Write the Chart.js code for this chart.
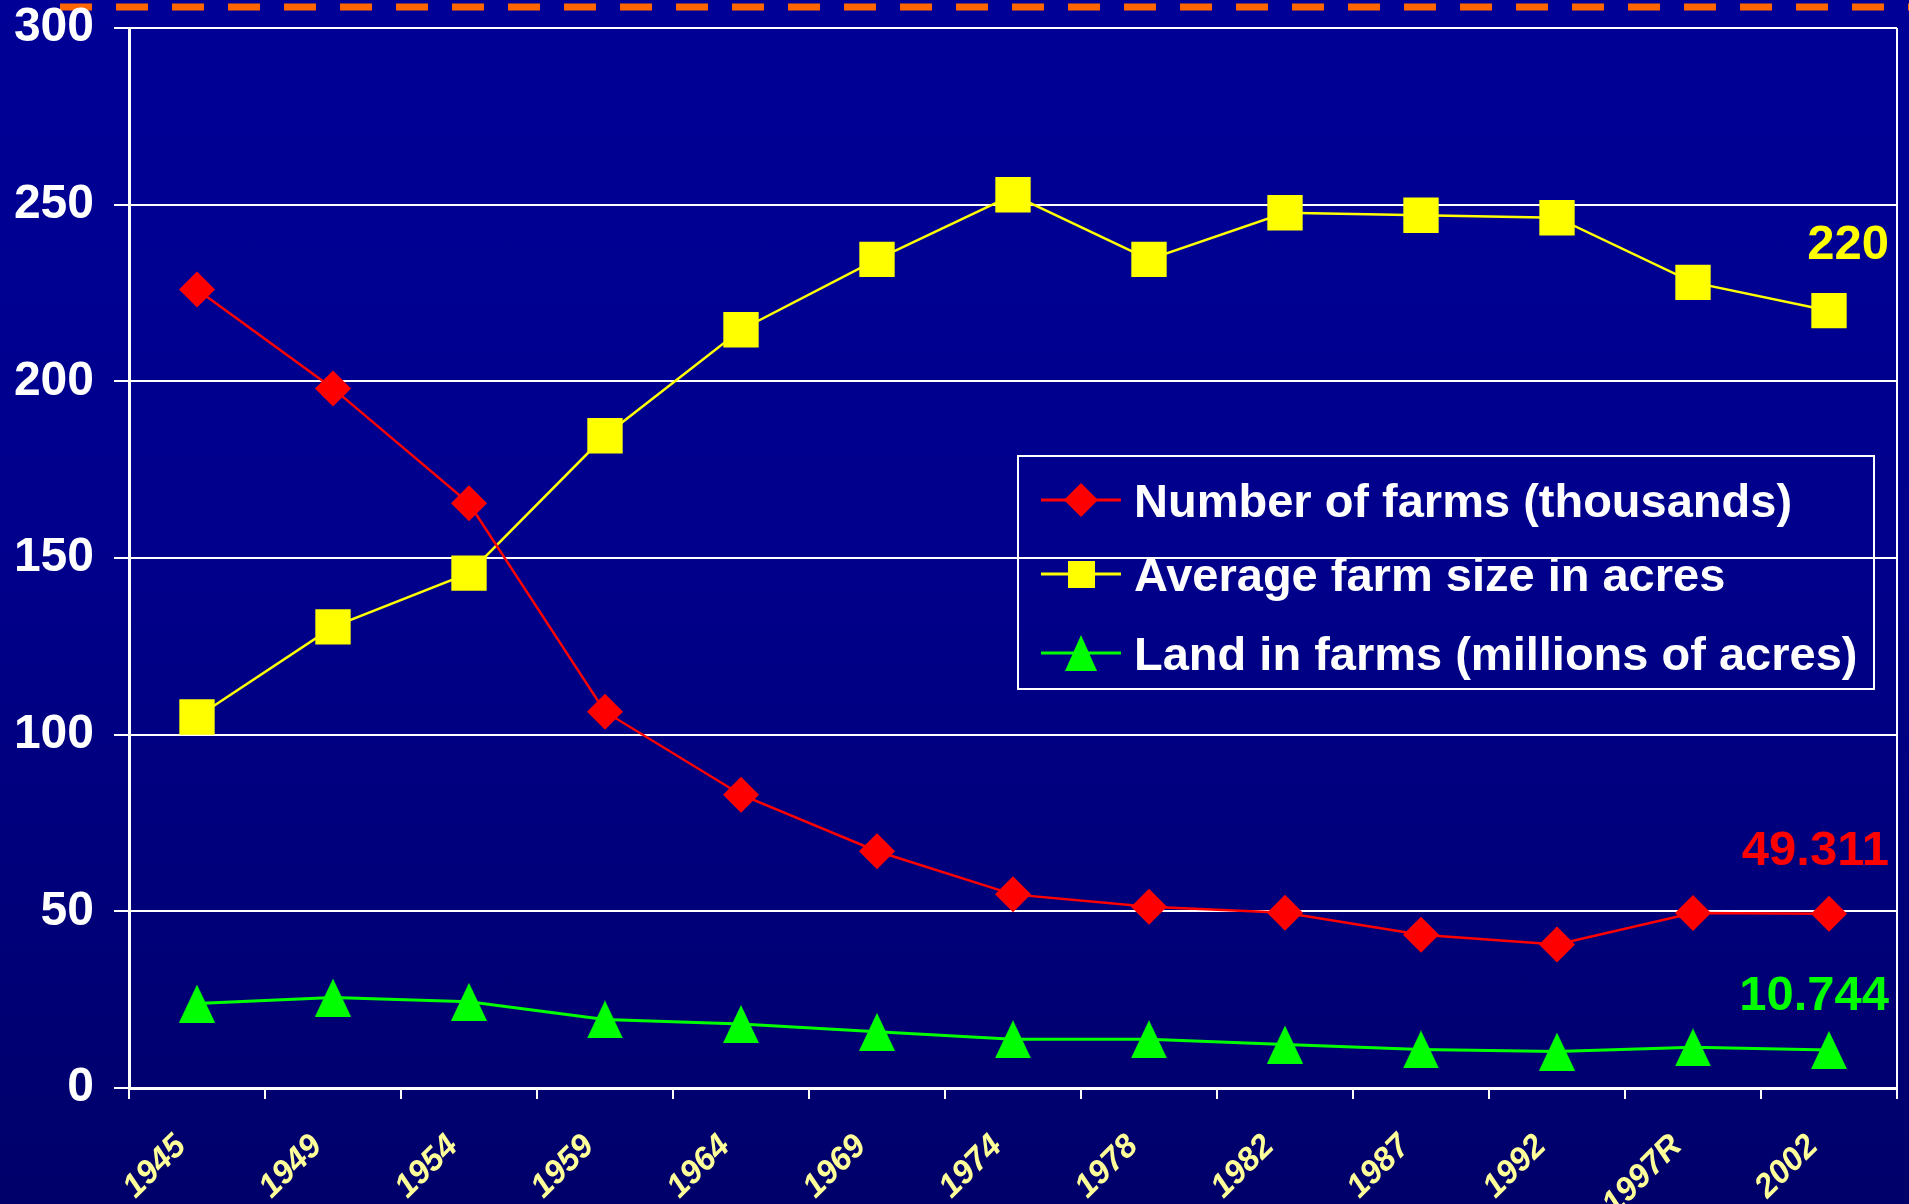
<!DOCTYPE html>
<html>
<head>
<meta charset="utf-8">
<script src="https://cdn.jsdelivr.net/npm/chart.js@4.4.1/dist/chart.umd.min.js"></script>
<style>
  html, body { margin: 0; padding: 0; }
  body {
    width: 1909px; height: 1204px; overflow: hidden; position: relative;
    background: linear-gradient(to bottom, #000096 0%, #00008c 45%, #00006a 100%);
    font-family: "Liberation Sans", Arial, sans-serif;
  }
  #wrap { position: absolute; left: 0; top: 0; width: 1909px; height: 1204px; }
  .legend {
    position: absolute; left: 1017px; top: 455px; width: 854px; height: 231px;
    border: 2px solid #fff;
  }
  .legend .row {
    position: absolute; left: 0; height: 60px; display: flex; align-items: center;
    color: #fff; font-weight: bold; font-size: 47px; white-space: nowrap;
  }
  .legend svg { margin-left: 22px; margin-right: 13px; }
</style>
</head>
<body>
<div id="wrap"><canvas id="farm-chart" width="1909" height="1204"></canvas></div>
<div class="legend" id="legend"></div>

<script>
const years = ['1945', '1949', '1954', '1959', '1964', '1969', '1974', '1978', '1982', '1987', '1992', '1997R', '2002'];
const farmCount = [226, 198, 165.5, 106.5, 83, 67, 54.8, 51.3, 49.6, 43.4, 40.6, 49.5, 49.311];
const farmSize = [105, 130.5, 145.7, 184.6, 214.6, 234.5, 252.8, 234.5, 247.7, 247, 246.3, 228, 220];
const landInFarms = [23.9, 25.6, 24.4, 19.4, 18.1, 15.9, 13.8, 13.8, 12.3, 10.9, 10.3, 11.5, 10.744];
const seriesNames = ['Number of farms (thousands)', 'Average farm size in acres', 'Land in farms (millions of acres)'];

// tall triangle marker, like the Excel one
function triangleMarker(w, h, color) {
    const c = document.createElement('canvas');
    c.width = w; c.height = h;
    const ctx = c.getContext('2d');
    ctx.fillStyle = color;
    ctx.beginPath();
    ctx.moveTo(w / 2, 0);
    ctx.lineTo(w, h);
    ctx.lineTo(0, h);
    ctx.closePath();
    ctx.fill();
    return c;
}

// orange dashed rule at the top of the slide + right border of the plot
const slideDecor = {
    id: 'slideDecor',
    beforeDraw(chart) {
        const ctx = chart.ctx;
        ctx.save();
        ctx.strokeStyle = '#ff6600';
        ctx.lineWidth = 7;
        ctx.setLineDash([32, 24]);
        ctx.beginPath();
        ctx.moveTo(60, 7);
        ctx.lineTo(chart.width, 7);
        ctx.stroke();
        ctx.restore();
    },
    afterDraw(chart) {
        const { ctx, chartArea } = chart;
        ctx.save();
        ctx.strokeStyle = '#ffffff';
        ctx.lineWidth = 2;
        ctx.beginPath();
        ctx.moveTo(chartArea.right, chartArea.top);
        ctx.lineTo(chartArea.right, chartArea.bottom);
        ctx.stroke();
        ctx.restore();
    }
};

// value of the last point, written above it at the right edge
const endLabels = {
    id: 'endLabels',
    afterDatasetsDraw(chart) {
        const { ctx, chartArea } = chart;
        const lifts = [62, 65, 54];
        ctx.save();
        ctx.font = 'bold 49px "Liberation Sans", Arial, sans-serif';
        ctx.textAlign = 'right';
        ctx.textBaseline = 'middle';
        chart.data.datasets.forEach((ds, i) => {
            const meta = chart.getDatasetMeta(i);
            const last = meta.data[meta.data.length - 1];
            ctx.fillStyle = ds.borderColor;
            ctx.fillText(String(ds.data[ds.data.length - 1]), chartArea.right - 8, last.y - lifts[i]);
        });
        ctx.restore();
    }
};

const greenTri = triangleMarker(36, 38, '#00ff00');

new Chart(document.getElementById('farm-chart'), {
    type: 'line',
    data: {
        labels: years,
        datasets: [
            {
                label: seriesNames[0],
                data: farmCount,
                borderColor: '#ff0000',
                backgroundColor: '#ff0000',
                borderWidth: 2.5,
                pointStyle: 'rectRot',
                pointRadius: 18,
                pointBorderWidth: 0
            },
            {
                label: seriesNames[1],
                data: farmSize,
                borderColor: '#ffff00',
                backgroundColor: '#ffff00',
                borderWidth: 2.5,
                pointStyle: 'rect',
                pointRadius: 25,
                pointBorderWidth: 0
            },
            {
                label: seriesNames[2],
                data: landInFarms,
                borderColor: '#00ff00',
                backgroundColor: '#00ff00',
                borderWidth: 3,
                pointStyle: greenTri,
                pointRadius: 18,
                pointBorderWidth: 0
            }
        ]
    },
    options: {
        responsive: false,
        animation: false,
        layout: { autoPadding: false, padding: { top: 28, right: 12, left: 0, bottom: 0 } },
        plugins: {
            legend: { display: false },
            tooltip: { enabled: false }
        },
        scales: {
            y: {
                min: 0,
                max: 300,
                afterFit: (scale) => {
                    scale.width = 129;
                    scale.paddingTop = 0;
                    scale.paddingBottom = 0;
                },
                ticks: {
                    stepSize: 50,
                    color: '#ffffff',
                    padding: 20,
                    font: { family: '"Liberation Sans", Arial, sans-serif', size: 48, weight: 'bold' }
                },
                grid: { color: '#ffffff', lineWidth: 2, tickLength: 15 },
                border: { color: '#ffffff', width: 3 }
            },
            x: {
                offset: true,
                afterFit: (scale) => {
                    scale.height = 116;
                    scale.paddingLeft = 0;
                    scale.paddingRight = 0;
                },
                ticks: {
                    color: '#ffff99',
                    minRotation: 45,
                    maxRotation: 45,
                    padding: 28,
                    labelOffset: -16,
                    font: { family: '"Liberation Sans", Arial, sans-serif', size: 33, weight: 'bold', style: 'italic' }
                },
                grid: { offset: true, drawOnChartArea: false, color: '#ffffff', lineWidth: 2, tickLength: 11 },
                border: { color: '#ffffff', width: 3 }
            }
        }
    },
    plugins: [slideDecor, endLabels]
});

// legend box drawn as html, line + marker icons
const legendIcons = [
    '<path d="M0 20 H80" stroke="#ff0000" stroke-width="3"/><path d="M40 3 L57 20 L40 37 L23 20 Z" fill="#ff0000"/>',
    '<path d="M0 20 H80" stroke="#ffff00" stroke-width="3"/><rect x="27" y="7" width="27" height="27" fill="#ffff00"/>',
    '<path d="M0 20 H80" stroke="#00ff00" stroke-width="3"/><path d="M40 2 L56 38 L24 38 Z" fill="#00ff00"/>'
];
const rowTops = [13, 87, 166];
document.getElementById('legend').innerHTML = seriesNames.map((name, i) =>
    `<div class="row" style="top:${rowTops[i]}px"><svg width="80" height="40" viewBox="0 0 80 40">${legendIcons[i]}</svg><span>${name}</span></div>`
).join('');
</script>
</body>
</html>
